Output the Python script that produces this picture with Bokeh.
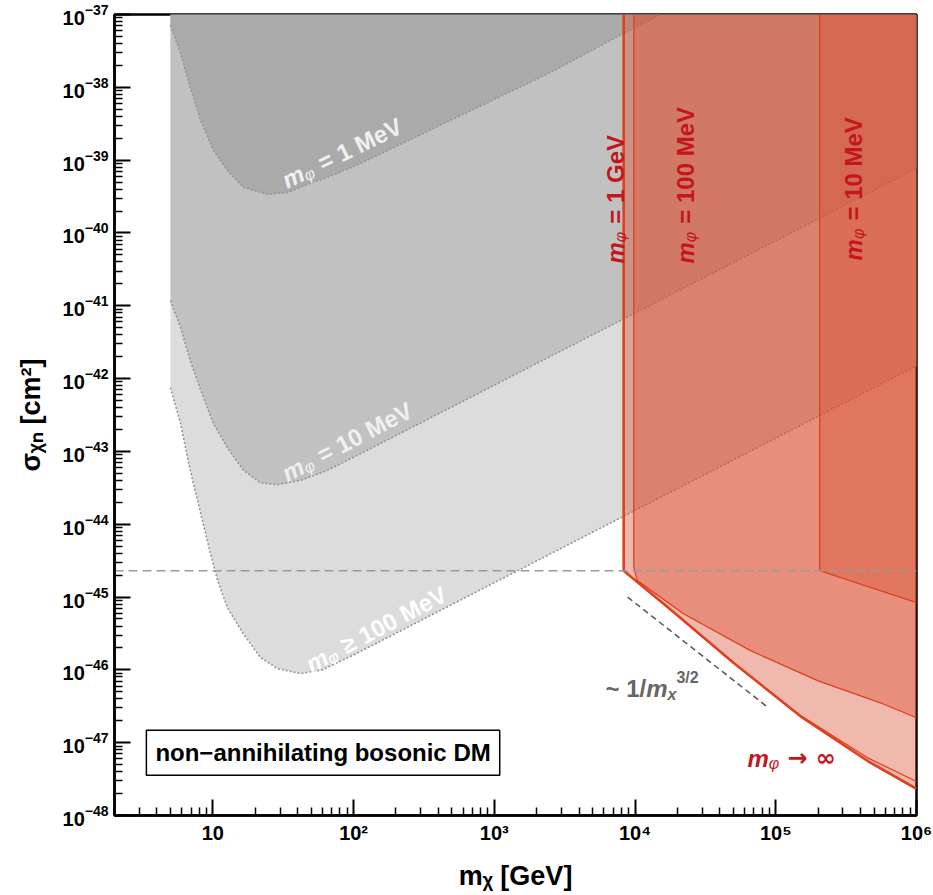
import numpy as np
from bokeh.plotting import figure
from bokeh.models import Range1d, FixedTicker, LogTickFormatter, CustomJSTickFormatter, Label
from bokeh.embed import file_html
from bokeh.resources import INLINE

# ---------------- data ----------------
# grey regions: lower boundaries of excluded regions (m_chi [GeV], sigma [cm^2])
m_1mev = [5.0, 5.9, 6.9, 8.2, 10.1, 12.7, 16.5, 24.5, 34, 49.4, 76.9, 112, 2510, 8300, 15200]
s_1mev = [7.1e-38, 2.9e-38, 1.0e-38, 3.5e-39, 1.35e-39, 7.2e-40, 4.2e-40, 3.4e-40, 3.6e-40,
          4.8e-40, 6.6e-40, 9.0e-40, 1.6e-38, 5.5e-38, 1e-37]
m_10mev = [5.0, 5.9, 6.9, 8.2, 10.1, 12.7, 16.5, 21.8, 28.8, 42, 65.3, 112, 15960, 1e6]
s_10mev = [1.18e-41, 5.0e-42, 1.78e-42, 6.9e-43, 2.4e-43, 1.12e-43, 5.5e-44, 3.7e-44, 3.5e-44,
           4.0e-44, 5.5e-44, 9.3e-44, 1.26e-41, 7.7e-40]
m_100mev = [5.0, 5.9, 6.9, 8.2, 9.6, 10.8, 12.7, 16.5, 21.8, 28.8, 42, 60, 100, 1e6]
s_100mev = [7.5e-43, 2.4e-43, 5.5e-44, 1.41e-44, 4.0e-45, 1.7e-45, 7.1e-46, 3.1e-46, 1.48e-46,
            1.04e-46, 8.9e-47, 1.0e-46, 1.6e-46, 1.5e-42]

# red regions
m_inf = [8300, 8300, 17000, 50000, 150000, 450000, 1e6]
s_inf = [1e-37, 2.3e-45, 7.3e-46, 1.25e-46, 2.3e-47, 5.6e-48, 2.33e-48]
m_red1gev = [8300, 8300, 17000, 50000, 150000, 450000, 1e6]
s_red1gev = [1e-37, 2.3e-45, 7.3e-46, 1.25e-46, 2.35e-47, 6.2e-48, 2.93e-48]
m_red100 = [9800, 9800, 10100, 10400, 22100, 66200, 198000, 580000, 1e6]
s_red100 = [1e-37, 2.6e-45, 2.0e-45, 1.68e-45, 5.9e-46, 1.84e-46, 7.1e-47, 3.4e-47, 2.2e-47]
m_red10 = [2.05e5, 2.05e5, 1e6]
s_red10 = [1e-37, 2.3e-45, 8.4e-46]

sigma_floor = 2.3e-45
m_slope = [8850, 89000]
s_slope = [1.0e-45, 3.0e-47]

x_tick_exp = [1, 2, 3, 4, 5, 6]
y_tick_exp = list(range(-48, -36))

X_MIN, X_MAX = 2.0, 1e6
Y_MIN, Y_MAX = 1e-48, 1e-37

# ---------------- styling ----------------
FONT = "Liberation Sans"
GRAY_DARK, GRAY_MID, GRAY_LIGHT = "#aaaaaa", "#c1c1c1", "#dcdcdc"
RED_FILL, RED_ALPHA = "#da5032", 0.4
RED_LINE = "#e0401e"
RED_TEXT = "#c4161c"
GRAY_TEXT = "#f0f0f0"

FW, FH = 802, 801
p = figure(frame_width=FW, frame_height=FH, x_axis_type="log", y_axis_type="log",
           x_range=Range1d(X_MIN, X_MAX), y_range=Range1d(Y_MIN, Y_MAX),
           output_backend="svg", toolbar_location=None,
           min_border_left=114, min_border_right=17, min_border_top=14, min_border_bottom=80)
p.background_fill_color = "white"
p.border_fill_color = "white"
p.grid.visible = False
p.outline_line_color = "black"
p.outline_line_width = 2.5

# grey regions
p.patch(m_100mev + [X_MAX, m_100mev[0]], s_100mev + [Y_MAX, Y_MAX], fill_color=GRAY_LIGHT, line_color=None)
p.patch(m_10mev + [X_MAX, m_10mev[0]], s_10mev + [Y_MAX, Y_MAX], fill_color=GRAY_MID, line_color=None)
p.patch(m_1mev + [m_1mev[0]], s_1mev + [Y_MAX], fill_color=GRAY_DARK, line_color=None)
for mm, ss in [(m_1mev, s_1mev), (m_10mev, s_10mev), (m_100mev, s_100mev)]:
    p.line(mm, ss, line_color="#959595", line_width=1.6, line_dash="2 2")

# red regions
for mm, ss in [(m_inf, s_inf), (m_red100, s_red100), (m_red10, s_red10)]:
    p.patch(mm + [X_MAX], ss + [Y_MAX], fill_color=RED_FILL, fill_alpha=RED_ALPHA, line_color=None)
p.line(m_red10, s_red10, line_color=RED_LINE, line_width=1.3)
p.line(m_red100, s_red100, line_color=RED_LINE, line_width=1.3)
p.line(m_red1gev, s_red1gev, line_color=RED_LINE, line_width=1.3)
p.line(m_inf, s_inf, line_color=RED_LINE, line_width=2.6)

# reference lines
p.line([X_MIN, X_MAX], [sigma_floor, sigma_floor], line_color="#9a9a9a", line_width=1.5, line_dash="9 5")
p.line(m_slope, s_slope, line_color="#555555", line_width=1.5, line_dash="6 4")

# ---------------- axes ----------------
for ax in (p.xaxis[0], p.yaxis[0]):
    ax.axis_line_width = 2.5
    ax.axis_line_color = "black"
    ax.major_tick_in = 16
    ax.major_tick_out = 0
    ax.major_tick_line_width = 2
    ax.minor_tick_in = 8
    ax.minor_tick_out = 0
    ax.minor_tick_line_width = 1.5
    ax.major_label_text_font = FONT
    ax.major_label_text_font_size = "20px"
    ax.major_label_text_font_style = "bold"
    ax.major_label_text_color = "black"
    ax.major_label_standoff = 6
    ax.axis_label_text_font = FONT
    ax.axis_label_text_font_size = "27px"
    ax.axis_label_text_font_style = "bold"
    ax.axis_label_text_color = "black"

x_minor = [k * 10.0 ** e for e in range(0, 6) for k in range(2, 10) if X_MIN <= k * 10.0 ** e <= X_MAX]
y_minor = [k * 10.0 ** e for e in range(-48, -37) for k in range(2, 10)]
p.xaxis.ticker = FixedTicker(ticks=[10.0 ** e for e in x_tick_exp], minor_ticks=x_minor)
p.yaxis.ticker = FixedTicker(ticks=[10.0 ** e for e in y_tick_exp], minor_ticks=y_minor)
p.xaxis.formatter = CustomJSTickFormatter(code="""
const e = Math.round(Math.log10(tick));
if (e === 1) { return "10"; }
const sup = {"2":"\u00b2","3":"\u00b3","4":"\u2074","5":"\u2075","6":"\u2076",
             "7":"\u2077","8":"\u2078","9":"\u2079","1":"\u00b9"};
let s = "";
for (const c of String(e)) { s += sup[c]; }
return "10" + s;
""")
p.yaxis.formatter = LogTickFormatter()

p.xaxis.axis_label = "m\u1d6a [GeV]"
p.yaxis.axis_label = "\u03c3\u1d6a\u2099 [cm\u00b2]"
p.xaxis.axis_label_standoff = 14
p.yaxis.axis_label_standoff = 14

# ---------------- text helper ----------------
PX_X = FW / np.log10(X_MAX / X_MIN)
PX_Y = FH / np.log10(Y_MAX / Y_MIN)
WIDTH = {' ': 0.278, '=': 0.584, '\u2265': 0.549, '\u2192': 0.84, '\u221e': 0.713, '~': 0.584,
         '/': 0.278, 'M': 0.833, 'e': 0.556, 'V': 0.667, 'G': 0.778, 'm': 0.889, 'x': 0.556,
         '\u03c6': 0.74, '[': 0.333, ']': 0.333, 'c': 0.556, 'n': 0.611, '\u03c3': 0.6, '\u03c7': 0.55}
for d in "0123456789":
    WIDTH[d] = 0.556


def twidth(t, size):
    return sum(WIDTH.get(c, 0.6) for c in t) * size


def add_text(x0, y0, angle_deg, pieces, color):
    th = np.radians(angle_deg)
    adv = 0.0
    for piece in pieces:
        txt, size, style, shift = piece[:4]
        font = piece[4] if len(piece) > 4 else FONT
        stripped = txt.lstrip(" ")
        adv += twidth(txt[:len(txt) - len(stripped)], size)   # leading spaces collapse in SVG
        dx = adv * np.cos(th) - shift * np.sin(th)
        dy = adv * np.sin(th) + shift * np.cos(th)
        p.add_layout(Label(x=x0 * 10 ** (dx / PX_X), y=y0 * 10 ** (dy / PX_Y), text=stripped, angle=th,
                           text_font=font, text_font_size=f"{size}px", text_font_style=style,
                           text_color=color, text_align="left", text_baseline="alphabetic"))
        adv += twidth(stripped, size)


def mphi(rest, size=24):
    return [("m", size, "bold italic", 0), ("\u03c6", int(size * 0.7), "italic", -5), (rest, size, "bold", 0)]


# grey labels
add_text(31.8, 5.1e-40, 26, mphi(" = 1 MeV"), GRAY_TEXT)
add_text(31.8, 4.8e-44, 27.5, mphi(" = 10 MeV"), GRAY_TEXT)
add_text(47, 1.15e-46, 28, mphi(" \u2265  100 MeV"), "#ffffff")
# red labels
add_text(7260, 3.8e-41, 90, mphi(" = 1 GeV"), RED_TEXT)
add_text(22800, 3.8e-41, 90, mphi(" = 100 MeV"), RED_TEXT)
add_text(3.56e5, 4.2e-41, 90, mphi(" = 10 MeV"), RED_TEXT)
add_text(6.3e4, 6.1e-48, 0, [("m", 24, "bold italic", 0), ("\u03c6", 16, "italic", -5),
                             (" \u2192 \u221e", 24, "bold", 0, "DejaVu Sans")], RED_TEXT)
# slope label
add_text(6170, 5.5e-47, 0, [("~ 1/", 24, "bold", 0), ("m", 24, "bold italic", 0),
                            ("x", 16, "bold italic", -6), ("3/2", 16, "bold", 11)], "#666666")

# box label
p.add_layout(Label(x=3.37, y=7.3e-48, text="non\u2212annihilating bosonic DM", text_font=FONT,
                   text_font_size="24px", text_font_style="bold", text_color="black",
                   text_align="left", text_baseline="middle", padding=9,
                   border_line_color="black", border_line_width=1.5, background_fill_color="white"))

open("out.html", "w").write(file_html(p, INLINE))
